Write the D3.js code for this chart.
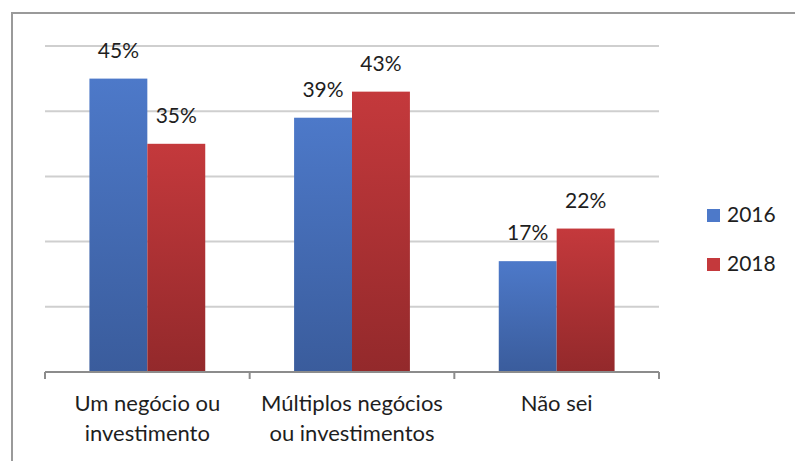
<!DOCTYPE html>
<html>
<head>
<meta charset="utf-8">
<script src="https://cdn.jsdelivr.net/npm/d3@7"></script>
<style>
  body { margin: 0; background: #fff; }
  svg { display: block; font-family: Lato, "Liberation Sans", sans-serif; }
</style>
</head>
<body>
<div id="chart"></div>
<script>
// data
const categories = [['Um negócio ou', 'investimento'], ['Múltiplos negócios', 'ou investimentos'], ['Não sei']];
const seriesNames = ['2016', '2018'];
const values2016 = [45, 39, 17];
const values2018 = [35, 43, 22];
const yTicks = [0, 10, 20, 30, 40, 50];

const width = 795, height = 461;
const colors = {
  '2016': ['#4d79c9', '#3a5c9c'],
  '2018': ['#c4393c', '#93292b']
};

const svg = d3.select('#chart')
  .append('svg')
  .attr('width', width)
  .attr('height', height);

// gradients for the bars (light at top, dark at bottom)
const defs = svg.append('defs');
seriesNames.forEach(s => {
  const g = defs.append('linearGradient')
    .attr('id', 'grad' + s)
    .attr('x1', 0).attr('y1', 0).attr('x2', 0).attr('y2', 1);
  g.append('stop').attr('offset', '0%').attr('stop-color', colors[s][0]);
  g.append('stop').attr('offset', '100%').attr('stop-color', colors[s][1]);
});

// outer frame (only left and top edges show)
svg.append('path')
  .attr('d', 'M12,' + height + 'V13H' + width)
  .attr('fill', 'none')
  .attr('stroke', '#9a9a9a')
  .attr('stroke-width', 2);

const x0 = d3.scaleBand()
  .domain(d3.range(categories.length))
  .range([45, 659])
  .paddingInner(0)
  .paddingOuter(0);

const x1 = d3.scaleBand()
  .domain(seriesNames)
  .range([0, x0.bandwidth()])
  .paddingInner(0)
  .paddingOuter(0.767);

const y = d3.scaleLinear()
  .domain([0, 50])
  .range([372, 46]);

// gridlines
svg.append('g')
  .selectAll('line')
  .data(yTicks.filter(t => t > 0))
  .join('line')
  .attr('x1', 45).attr('x2', 659)
  .attr('y1', d => y(d)).attr('y2', d => y(d))
  .attr('stroke', '#cfcfcf')
  .attr('stroke-width', 2);

// bars
const rows = categories.map((c, i) => ({
  i,
  vals: [{ s: '2016', v: values2016[i] }, { s: '2018', v: values2018[i] }]
}));

const groups = svg.append('g')
  .selectAll('g')
  .data(rows)
  .join('g')
  .attr('transform', d => 'translate(' + x0(d.i) + ',0)');

groups.selectAll('rect')
  .data(d => d.vals)
  .join('rect')
  .attr('x', d => x1(d.s))
  .attr('y', d => y(d.v))
  .attr('width', x1.bandwidth())
  .attr('height', d => y(0) - y(d.v))
  .attr('fill', d => 'url(#grad' + d.s + ')');

groups.selectAll('text')
  .data(d => d.vals)
  .join('text')
  .attr('x', d => x1(d.s) + x1.bandwidth() / 2)
  .attr('y', d => y(d.v) - 21)
  .attr('text-anchor', 'middle')
  .attr('font-size', 21)
  .attr('fill', '#1e1e1e')
  .text(d => d.v + '%');

// x axis
const xAxis = d3.axisBottom(x0)
  .tickSize(0)
  .tickFormat('');
const axisG = svg.append('g')
  .attr('transform', 'translate(0,' + y(0) + ')')
  .call(xAxis);
axisG.select('.domain')
  .attr('stroke', '#8c8c8c')
  .attr('stroke-width', 2)
  .attr('d', 'M45,0H659');
axisG.selectAll('.tick').remove();

// boundary ticks between categories
const bounds = d3.range(categories.length + 1).map(i => i < categories.length ? x0(i) : x0(i - 1) + x0.bandwidth());
axisG.selectAll('line.sep')
  .data(bounds)
  .join('line')
  .attr('class', 'sep')
  .attr('x1', d => d).attr('x2', d => d)
  .attr('y1', 0).attr('y2', 7)
  .attr('stroke', '#8c8c8c')
  .attr('stroke-width', 2);

// category labels
const catLabels = svg.append('g')
  .selectAll('text')
  .data(categories)
  .join('text')
  .attr('x', (d, i) => x0(i) + x0.bandwidth() / 2)
  .attr('y', 411)
  .attr('text-anchor', 'middle')
  .attr('font-size', 22)
  .attr('fill', '#1e1e1e');
catLabels.selectAll('tspan')
  .data(d => d)
  .join('tspan')
  .attr('x', function () { return this.parentNode.getAttribute('x'); })
  .attr('dy', (d, j) => j === 0 ? 0 : 30)
  .text(d => d);

// legend
const legend = svg.append('g')
  .selectAll('g')
  .data(seriesNames)
  .join('g')
  .attr('transform', (d, i) => 'translate(707,' + (209 + i * 49) + ')');
legend.append('rect')
  .attr('width', 13).attr('height', 13)
  .attr('fill', d => colors[d][0]);
legend.append('text')
  .attr('x', 20).attr('y', 13)
  .attr('font-size', 21)
  .attr('fill', '#1e1e1e')
  .text(d => d);
</script>
</body>
</html>
